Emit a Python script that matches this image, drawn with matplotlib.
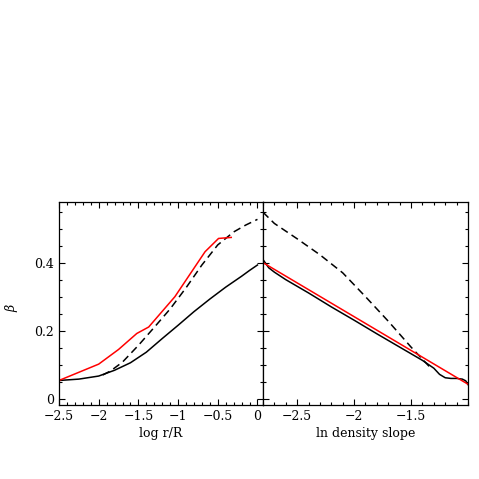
import numpy as np
import matplotlib
matplotlib.use("Agg")
import matplotlib.pyplot as plt
from matplotlib.ticker import MultipleLocator

plt.rcParams['font.family'] = ['DejaVu Serif']
plt.rcParams['mathtext.fontset'] = 'dejavuserif'

# left panel: beta vs log r/R
logr_solid = [-2.5, -2.25, -2.0, -1.8, -1.6, -1.4, -1.2, -1.0, -0.8, -0.6, -0.4, -0.2, -0.1, 0.0]
beta_solid = [0.054, 0.058, 0.067, 0.084, 0.106, 0.137, 0.177, 0.216, 0.256, 0.293, 0.328, 0.360, 0.377, 0.393]

logr_dash = [-1.95, -1.85, -1.7, -1.5, -1.3, -1.1, -0.9, -0.7, -0.5, -0.3, -0.15, 0.0]
beta_dash = [0.070, 0.082, 0.108, 0.157, 0.210, 0.264, 0.326, 0.393, 0.452, 0.490, 0.510, 0.527]

logr_red = [-2.5, -2.0, -1.75, -1.52, -1.37, -1.04, -0.66, -0.49, -0.33]
beta_red = [0.054, 0.102, 0.145, 0.192, 0.211, 0.300, 0.432, 0.471, 0.474]

# right panel: beta vs ln density slope
slope_solid = [-2.8, -2.75, -2.7, -2.6, -2.4, -2.2, -2.0, -1.8, -1.6, -1.4, -1.3, -1.25, -1.2, -1.15, -1.1, -1.05, -1.02, -1.0]
beta_solid2 = [0.409, 0.385, 0.372, 0.350, 0.311, 0.270, 0.231, 0.191, 0.152, 0.113, 0.090, 0.072, 0.062, 0.060, 0.060, 0.058, 0.053, 0.042]

slope_dash = [-2.8, -2.7, -2.5, -2.3, -2.1, -1.9, -1.7, -1.5, -1.34]
beta_dash2 = [0.548, 0.515, 0.470, 0.423, 0.370, 0.300, 0.228, 0.152, 0.095]

slope_red = [-2.8, -1.0]
beta_red2 = [0.400, 0.043]

fig = plt.figure(figsize=(4.79, 4.79), dpi=100)
ax1 = fig.add_axes([59/479, 1-405/479, (263-59)/479, 203/479])
ax2 = fig.add_axes([263/479, 1-405/479, (468-263)/479, 203/479])

for ax in (ax1, ax2):
    ax.tick_params(which='both', direction='in', top=True, right=True, labelsize=9, width=0.8)
    ax.tick_params(which='major', length=4)
    ax.tick_params(which='minor', length=2)
    ax.xaxis.set_major_locator(MultipleLocator(0.5))
    ax.xaxis.set_minor_locator(MultipleLocator(0.1))
    ax.yaxis.set_major_locator(MultipleLocator(0.2))
    ax.yaxis.set_minor_locator(MultipleLocator(0.05))
    ax.set_ylim(-0.018, 0.578)
    for s in ax.spines.values():
        s.set_linewidth(0.9)

ax1.plot(logr_solid, beta_solid, color='black', lw=1.1)
ax1.plot(logr_dash, beta_dash, color='black', lw=1.1, ls=(0, (5, 3)))
ax1.plot(logr_red, beta_red, color='red', lw=1.1)
ax1.set_xlim(-2.5, 0.07)
ax1.set_xticks([-2.5, -2, -1.5, -1, -0.5, 0])
ax1.set_xticklabels(['\u22122.5', '\u22122', '\u22121.5', '\u22121', '\u22120.5', '0'])
ax1.set_yticks([0, 0.2, 0.4])
ax1.set_yticklabels(['0', '0.2', '0.4'])
ax1.set_xlabel('log r/R', fontsize=9, labelpad=3)
ax1.set_ylabel(r'$\beta$', fontsize=9)
ax1.yaxis.set_label_coords(-0.19, 0.48)

ax2.plot(slope_solid, beta_solid2, color='black', lw=1.1)
ax2.plot(slope_dash, beta_dash2, color='black', lw=1.1, ls=(0, (5, 3)))
ax2.plot(slope_red, beta_red2, color='red', lw=1.1)
ax2.set_xlim(-2.8, -1.0)
ax2.set_xticks([-2.5, -2, -1.5])
ax2.set_xticklabels(['\u22122.5', '\u22122', '\u22121.5'])
ax2.set_yticklabels([])
ax2.set_xlabel('ln density slope', fontsize=9, labelpad=3)

fig.savefig('out.png', dpi=100)
